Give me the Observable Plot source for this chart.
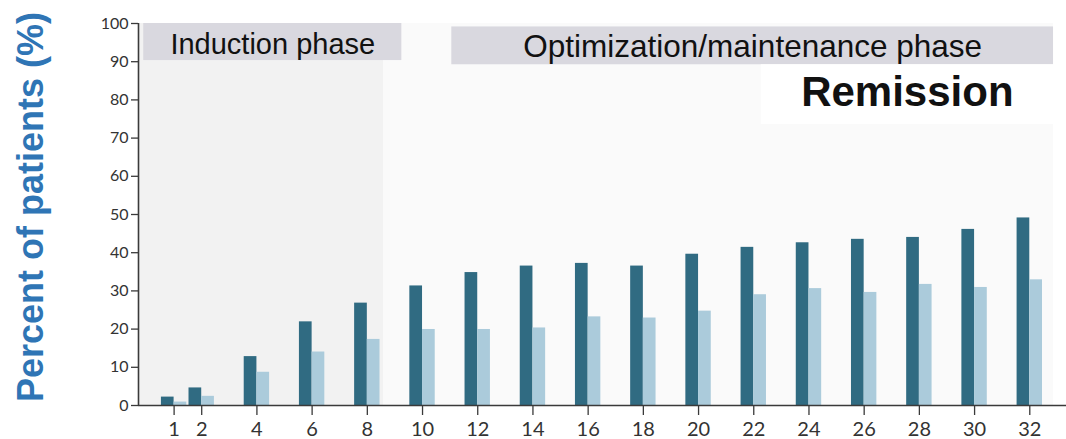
<!DOCTYPE html>
<html><head><meta charset="utf-8">
<script src="https://cdn.jsdelivr.net/npm/d3@7"></script>
<script src="https://cdn.jsdelivr.net/npm/@observablehq/plot@0.6"></script>
<style>body{margin:0;background:#fff}svg{display:block}</style>
</head><body><div id="chart"></div>
<script>
// ---- data ----
const weeks = [1, 2, 4, 6, 8, 10, 12, 14, 16, 18, 20, 22, 24, 26, 28, 30, 32];
const seriesDark = [2.2, 4.6, 12.8, 21.9, 26.8, 31.3, 34.8, 36.5, 37.2, 36.5, 39.6, 41.4, 42.6, 43.5, 44.0, 46.1, 49.1];
const seriesLight = [0.9, 2.4, 8.7, 14.0, 17.3, 19.9, 19.9, 20.3, 23.2, 22.9, 24.7, 29.0, 30.6, 29.6, 31.7, 30.9, 32.9];
const yTicks = [0, 10, 20, 30, 40, 50, 60, 70, 80, 90, 100];
const xTicks = [1, 2, 4, 6, 8, 10, 12, 14, 16, 18, 20, 22, 24, 26, 28, 30, 32];
const phaseLabels = ["Induction phase", "Optimization/maintenance phase"];
const panelTitle = "Remission";
const yLabel = "Percent of patients (%)";

// ---- layout (data units) ----
const xDomain = [-0.29, 33.33];
const barW = 0.46;
const bgBands = [
  {x1: xDomain[0], x2: 8.6, fill: "#f2f2f2"},
  {x1: 8.6, x2: 32.86, fill: "#fafafa"}
];
const headerBoxes = [
  {x1: -0.10, x2: 9.25, y1: 90.3, y2: 100, ty: 94.5, size: 29},
  {x1: 11.06, x2: 32.86, y1: 89.2, y2: 99.1, ty: 93.8, size: 31.5}
];
const titleBox = {x1: 22.27, x2: 32.86, y1: 73.6, y2: 89.2, ty: 82.0};

const bars = weeks.map((w, i) => ({week: w, dark: seriesDark[i], light: seriesLight[i]}));
const headers = headerBoxes.map((b, i) => ({...b, label: phaseLabels[i]}));

const axisColor = "#3a3a3a";
const tickFont = "Lato, 'Open Sans', sans-serif";
const headFont = "'Liberation Sans', Arial, sans-serif";

const chart = Plot.plot({
  width: 1066,
  height: 439,
  marginLeft: 138,
  marginRight: 0,
  marginTop: 23,
  marginBottom: 34,
  style: {background: "#ffffff", fontFamily: tickFont, color: "#333"},
  x: {domain: xDomain, axis: null},
  y: {domain: [0, 100], axis: null},
  marks: [
    Plot.rect(bgBands, {x1: "x1", x2: "x2", y1: 0, y2: 100, fill: "fill"}),
    Plot.rect(headers, {x1: "x1", x2: "x2", y1: "y1", y2: "y2", fill: "#d9d8df"}),
    Plot.rect([titleBox], {x1: "x1", x2: "x2", y1: "y1", y2: "y2", fill: "#ffffff"}),
    Plot.rectY(bars, {x1: d => d.week - barW, x2: d => d.week, y: "dark", fill: "#306b82"}),
    Plot.rectY(bars, {x1: d => d.week, x2: d => d.week + barW, y: "light", fill: "#abcbdb"}),
    Plot.ruleY([0], {stroke: axisColor, strokeWidth: 1.6}),
    Plot.ruleX([xDomain[0]], {y1: 0, y2: 100, stroke: axisColor, strokeWidth: 1.6}),
    Plot.axisY({ticks: yTicks, tickSize: 7, tickPadding: 3, fontSize: 16, stroke: axisColor, fill: "#333", strokeWidth: 1.3, label: null}),
    Plot.axisX({ticks: xTicks, tickSize: 10, tickPadding: 6, fontSize: 20, stroke: axisColor, fill: "#333", strokeWidth: 1.3, label: null, tickFormat: d => String(d)}),
    Plot.text(headers, {x: d => (d.x1 + d.x2) / 2, y: "ty", text: "label", fontSize: d => d.size, fontFamily: headFont, fill: "#111"}),
    Plot.text([titleBox], {x: d => (d.x1 + d.x2) / 2, y: "ty", text: () => panelTitle, fontSize: 42, fontWeight: "bold", fontFamily: headFont, fill: "#111"}),
    Plot.text([yLabel], {text: d => d, frameAnchor: "left", textAnchor: "middle", rotate: -90, dx: -107, dy: -7.5, fontSize: 36, fontWeight: "bold", fontFamily: headFont, fill: "#2f75b5"})
  ]
});
document.getElementById("chart").appendChild(chart);
</script>
</body></html>
